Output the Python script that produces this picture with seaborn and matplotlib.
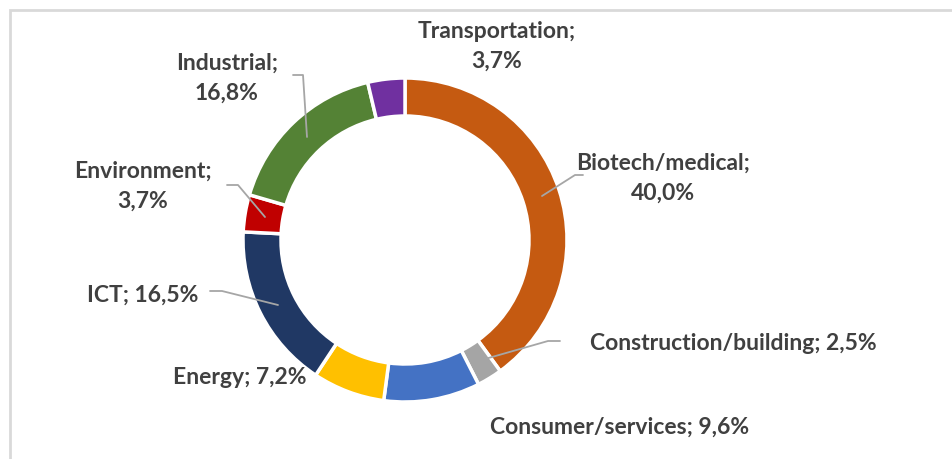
import matplotlib
matplotlib.use("Agg")
import matplotlib.pyplot as plt
import seaborn as sns
from matplotlib.patches import Rectangle

# ---- data (clockwise from 12 o'clock) ----
sectors = ["Biotech/medical", "Construction/building", "Consumer/services",
           "Energy", "ICT", "Environment", "Industrial", "Transportation"]
shares = [40.0, 2.5, 9.6, 7.2, 16.5, 3.7, 16.8, 3.7]
colors = ["#C55A11", "#A5A5A5", "#4472C4", "#FFC000",
          "#203864", "#C00000", "#548235", "#7030A0"]

sns.set_theme(style="white")
plt.rcParams["font.family"] = ["Lato", "DejaVu Sans"]

W, H = 953, 459
fig = plt.figure(figsize=(W / 100, H / 100), dpi=100)
ax = fig.add_axes([0, 0, 1, 1])

def py(y):
    # image pixel row -> data y
    return H - y

cx, cy, r = 405, 240, 162
ax.pie(shares, colors=colors, startangle=90, counterclock=False,
       center=(cx, py(cy)), radius=r, frame=True,
       wedgeprops=dict(width=38, edgecolor="white", linewidth=2.5))
ax.set_xlim(0, W)
ax.set_ylim(0, H)
ax.set_aspect("equal")
ax.axis("off")

# frame of the chart area
ax.add_patch(Rectangle((10, py(H + 20)), W + 20, H + 10, fill=False,
                       edgecolor="#D9D9D9", linewidth=2))

def fmt(v):
    return f"{v:.1f}".replace(".", ",") + "%"

txt = dict(fontsize=16.5, fontweight="bold", color="#404040",
           ha="center", va="center", linespacing=1.5)

# label positions (pixel centres) and leader lines
labels = {
    "Transportation": ((497, 46), True, None),
    "Biotech/medical": ((663, 178), True, [(583, 175), (575, 175), (542, 196)]),
    "Construction/building": ((733, 343), False, [(560, 341), (548, 341), (485, 359)]),
    "Consumer/services": ((620, 427), False, None),
    "Energy": ((240, 378), False, None),
    "ICT": ((143, 295), False, [(210, 291), (222, 291), (278, 305)]),
    "Environment": ((143, 186), True, [(227, 185), (238, 185), (265, 217)]),
    "Industrial": ((227, 78), True, [(293, 75), (303, 75), (307, 137)]),
}

for name, v in zip(sectors, shares):
    (x, y), two_lines, leader = labels[name]
    sep = ";\n" if two_lines else "; "
    ax.text(x, py(y), name + sep + fmt(v), **txt)
    if leader:
        ax.plot([p[0] for p in leader], [py(p[1]) for p in leader],
                color="#A6A6A6", linewidth=1.3)

fig.savefig("out.png", dpi=100, facecolor="white")
